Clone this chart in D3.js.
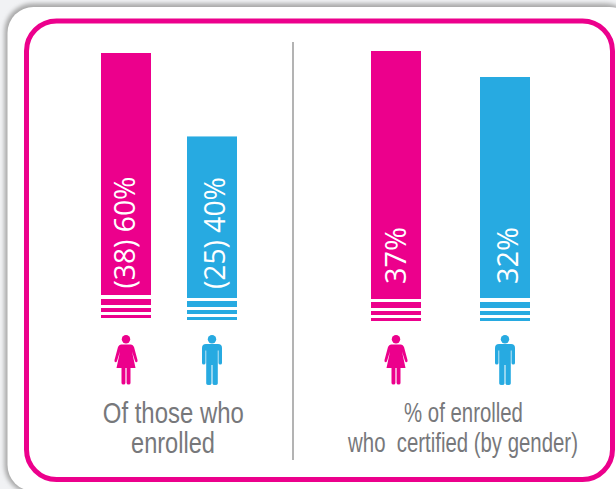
<!DOCTYPE html>
<html><head><meta charset="utf-8">
<script src="https://cdn.jsdelivr.net/npm/d3@7/dist/d3.min.js"></script>
<style>html,body{margin:0;padding:0;background:#f1f2f4;overflow:hidden}svg{display:block}</style>
</head><body><svg id="c" width="616" height="489"></svg>
<script>
const genders=["female","male"];
const leftLabels=["(38) 60%","(25) 40%"];
const leftValues=[60,40];
const rightLabels=["37%","32%"];
const rightValues=[37,32];
const colors=["#ec008c","#27aae1"];
const svg=d3.select("#c");
const defs=svg.append("defs");
const f=defs.append("filter").attr("id","sh").attr("x","-5%").attr("y","-5%").attr("width","110%").attr("height","110%");
f.append("feGaussianBlur").attr("stdDeviation",2);
svg.append("rect").attr("x",4.5).attr("y",3.5).attr("width",629).attr("height",490).attr("rx",28).attr("fill","#a8a8a8").attr("filter","url(#sh)");
svg.append("rect").attr("x",7.5).attr("y",7).attr("width",628).attr("height",484).attr("rx",26).attr("fill","#fff");
svg.append("rect").attr("x",26.5).attr("y",21).attr("width",586).attr("height",458.5).attr("rx",30).attr("fill","none").attr("stroke",colors[0]).attr("stroke-width",5);
svg.append("line").attr("x1",293).attr("x2",293).attr("y1",42).attr("y2",460).attr("stroke","#9a9a9a").attr("stroke-width",1.5);

const yL=d3.scaleLinear().domain([2,60]).range([295,53]);
const yR=d3.scaleLinear().domain([-10.7,37]).range([299,51]);
const panels=[
 {vals:leftValues,labs:leftLabels,y:yL,xs:[101,187],bases:[295,298],stripeTop:[299,301],textAt:[134.5,224.5],textY:[288.5,289],len:[112,112]},
 {vals:rightValues,labs:rightLabels,y:yR,xs:[371,480],bases:[299,298],stripeTop:[302,302],textAt:[405.5,517.5],textY:[284,284],len:[57,57]}
];
const W=50;
function person(g,i,cx){
 const p=g.append("g").attr("transform",`translate(${cx},335)`).attr("fill",colors[i]);
 p.append("circle").attr("cx",0).attr("cy",4.2).attr("r",4.2);
 if(i===0){
  p.append("path").attr("d","M-5,9.5H5Q7,9.5 8,12L11.5,25Q12,27 10.5,27.3Q9.5,27.5 9,26L6,16.5L9.5,33H-9.5L-6,16.5L-9,26Q-9.5,27.5 -10.5,27.3Q-12,27 -11.5,25L-8,12Q-7,9.5 -5,9.5Z");
  p.append("path").attr("d","M-4.5,33H-0.6V48Q-0.6,49.5 -2.5,49.5Q-4.5,49.5 -4.5,48Z");
  p.append("path").attr("d","M0.6,33H4.5V48Q4.5,49.5 2.5,49.5Q0.6,49.5 0.6,48Z");
 } else {
  p.append("path").attr("d","M-6,9H6Q10,9 10,13V28Q10,29.5 8.3,29.5Q6.5,29.5 6.5,28V15.5L5.8,15.5V48.5Q5.8,50 3,50Q0.5,50 0.5,48.5V30H-0.5V48.5Q-0.5,50 -3,50Q-5.8,50 -5.8,48.5V15.5L-6.5,15.5V28Q-6.5,29.5 -8.3,29.5Q-10,29.5 -10,28V13Q-10,9 -6,9Z");
 }
}
const stripes=[[0,6],[9,4],[16,3]];
panels.forEach(P=>{
 const g=svg.append("g");
 g.selectAll("rect.bar").data(P.vals).join("rect").attr("class","bar")
  .attr("x",(d,i)=>P.xs[i]).attr("width",W).attr("y",d=>P.y(d)).attr("height",(d,i)=>P.bases[i]-P.y(d))
  .attr("fill",(d,i)=>colors[i]);
 P.vals.forEach((d,i)=>{
  stripes.forEach(s=>g.append("rect").attr("x",P.xs[i]).attr("width",W).attr("y",P.stripeTop[i]+s[0]).attr("height",s[1]).attr("fill",colors[i]));
  person(g,i,P.xs[i]+W/2);
 });
 g.selectAll("text").data(P.labs).join("text")
  .attr("fill","#fff").attr("font-family","Open Sans").attr("font-weight",400).attr("font-size",30)
  .text(d=>d)
  .attr("transform",function(d,i){const s=P.len[i]/this.getComputedTextLength();return `translate(${P.textAt[i]},${P.textY[i]}) rotate(-90) scale(${s},1)`;});
});
const caps=[["Of those who",173.3,423,141,29],["enrolled",173,453,84,29],["% of enrolled",463.5,421.5,119,27.5],["who  certified (by gender)",463,452,230,27.5]];
svg.selectAll("text.cap").data(caps).join("text").attr("class","cap")
 .attr("text-anchor","middle")
 .style("white-space","pre")
 .attr("fill","#77787b").attr("font-family","Liberation Sans").attr("font-size",d=>d[4])
 .text(d=>d[0])
 .attr("transform",function(d){const s=d[3]/this.getComputedTextLength();return `translate(${d[1]},${d[2]}) scale(${s},1)`;});
</script></body></html>
